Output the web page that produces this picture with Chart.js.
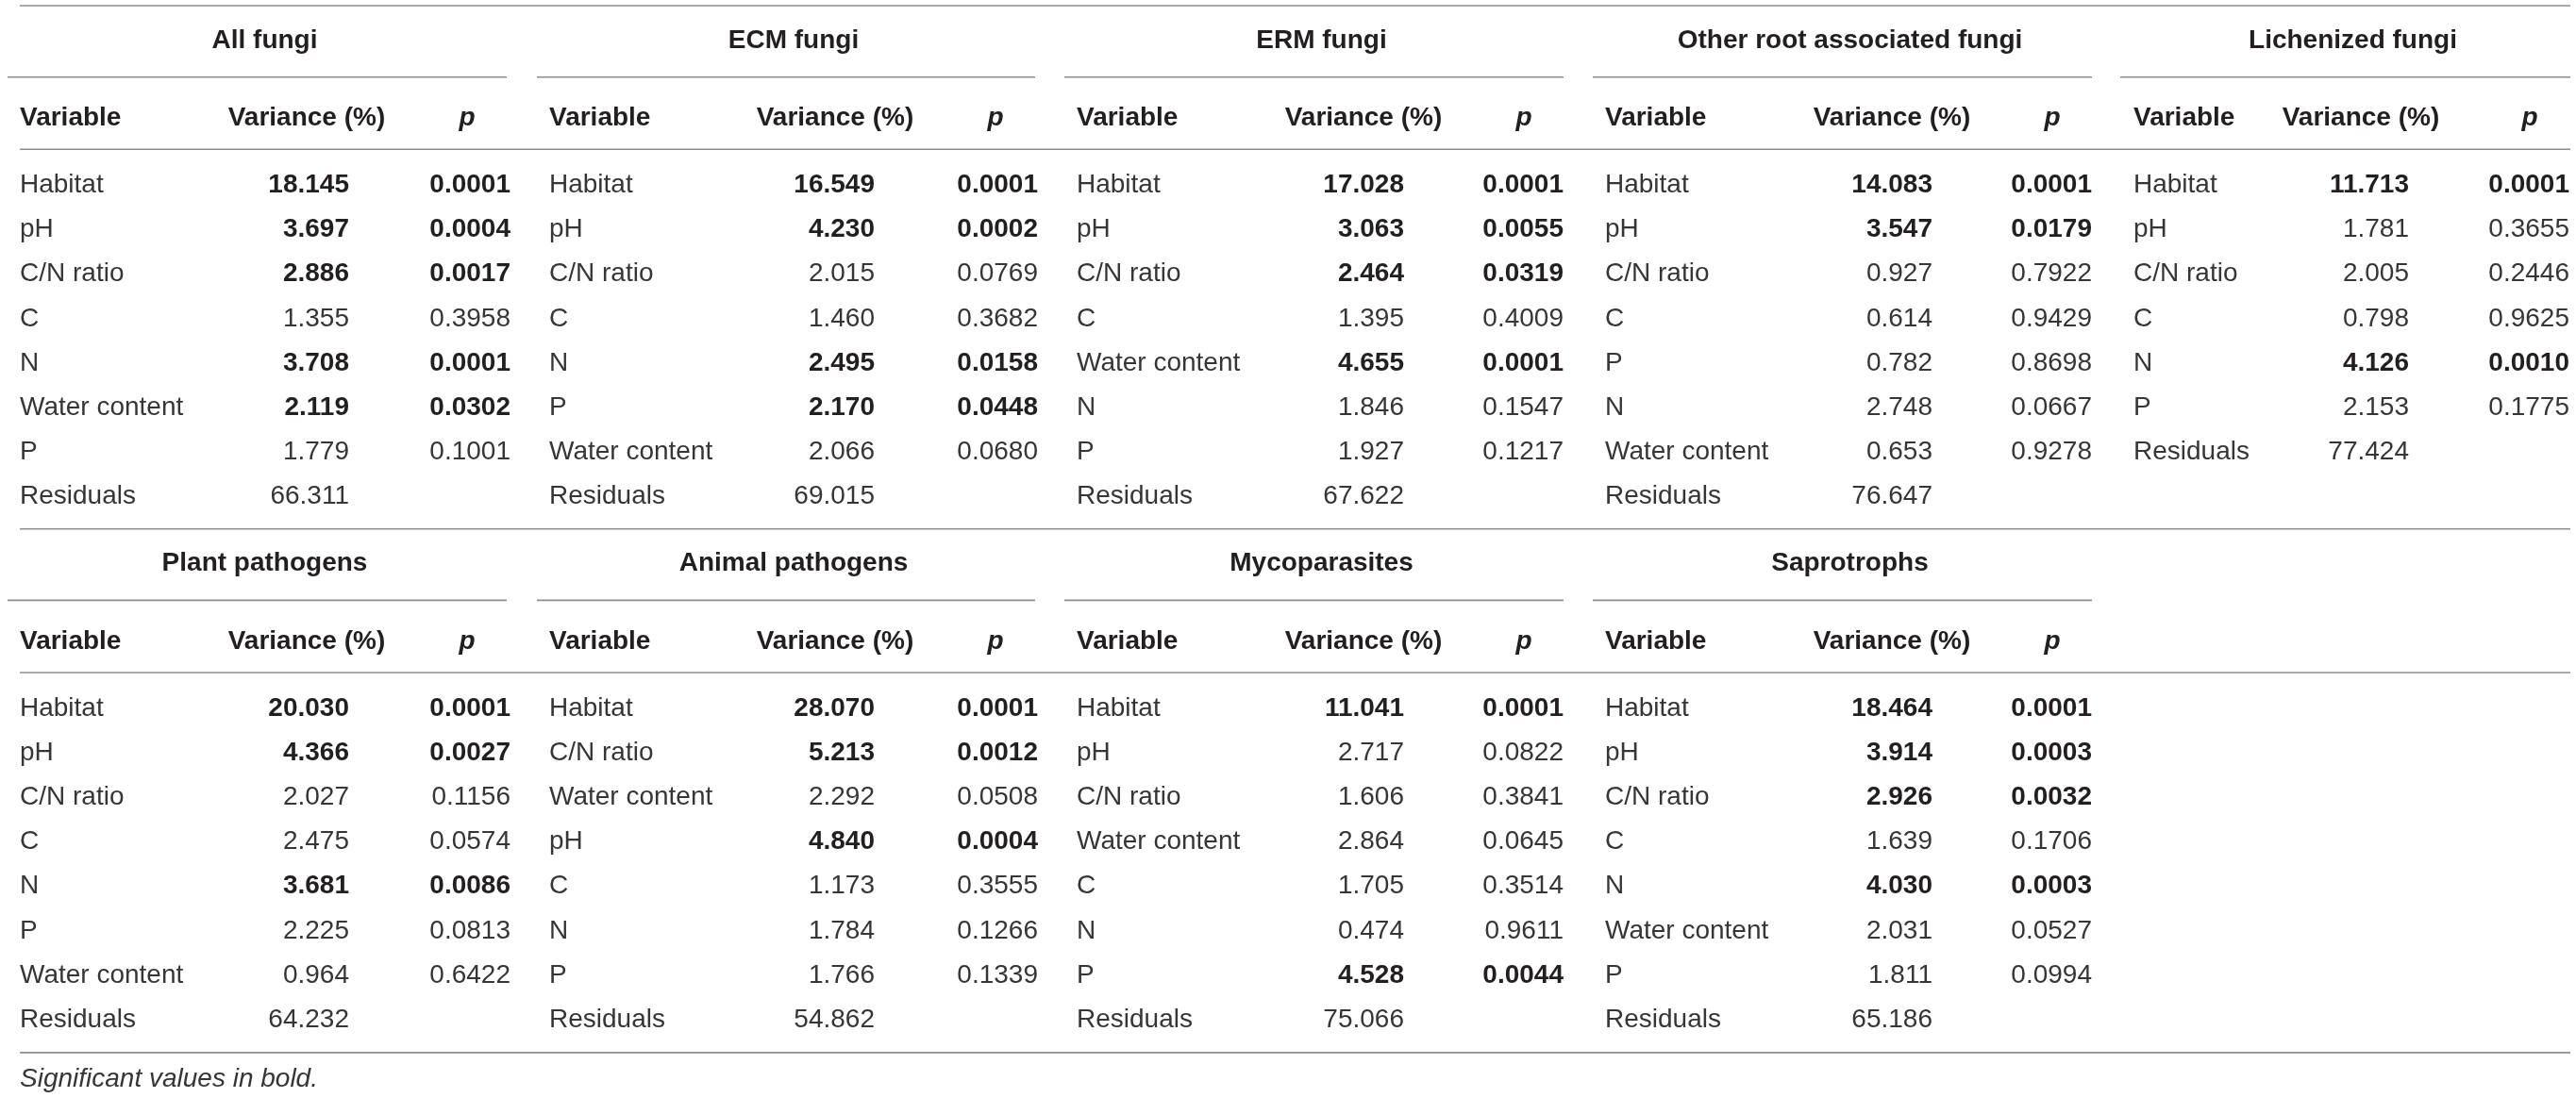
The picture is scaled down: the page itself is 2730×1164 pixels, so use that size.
<!DOCTYPE html>
<html>
<head>
<meta charset="utf-8">
<title>Variance partitioning of fungal communities</title>
<script src="https://cdn.jsdelivr.net/npm/chart.js@4.4.1/dist/chart.umd.min.js"></script>
<style>
  html, body { margin: 0; padding: 0; background: #fff; }
  #wrap { position: relative; width: 2730px; height: 1164px; }
</style>
</head>
<body>
<div id="wrap"><canvas id="table"></canvas></div>
<script>
/* ── Table data ─────────────────────────────────────────────────── */

var HEADERS = ['Variable', 'Variance (%)', 'p'];
var FOOTNOTE = 'Significant values in bold.';
var ALPHA = 0.05; /* significant cells are set in bold */

var ALL_TITLE = 'All fungi';
var ALL_VARS = ['Habitat', 'pH', 'C/N ratio', 'C', 'N', 'Water content', 'P', 'Residuals'];
var ALL_VARIANCE = [18.145, 3.697, 2.886, 1.355, 3.708, 2.119, 1.779, 66.311];
var ALL_P = [0.0001, 0.0004, 0.0017, 0.3958, 0.0001, 0.0302, 0.1001, null];

var ECM_TITLE = 'ECM fungi';
var ECM_VARS = ['Habitat', 'pH', 'C/N ratio', 'C', 'N', 'P', 'Water content', 'Residuals'];
var ECM_VARIANCE = [16.549, 4.230, 2.015, 1.460, 2.495, 2.170, 2.066, 69.015];
var ECM_P = [0.0001, 0.0002, 0.0769, 0.3682, 0.0158, 0.0448, 0.0680, null];

var ERM_TITLE = 'ERM fungi';
var ERM_VARS = ['Habitat', 'pH', 'C/N ratio', 'C', 'Water content', 'N', 'P', 'Residuals'];
var ERM_VARIANCE = [17.028, 3.063, 2.464, 1.395, 4.655, 1.846, 1.927, 67.622];
var ERM_P = [0.0001, 0.0055, 0.0319, 0.4009, 0.0001, 0.1547, 0.1217, null];

var ORA_TITLE = 'Other root associated fungi';
var ORA_VARS = ['Habitat', 'pH', 'C/N ratio', 'C', 'P', 'N', 'Water content', 'Residuals'];
var ORA_VARIANCE = [14.083, 3.547, 0.927, 0.614, 0.782, 2.748, 0.653, 76.647];
var ORA_P = [0.0001, 0.0179, 0.7922, 0.9429, 0.8698, 0.0667, 0.9278, null];

var LICH_TITLE = 'Lichenized fungi';
var LICH_VARS = ['Habitat', 'pH', 'C/N ratio', 'C', 'N', 'P', 'Residuals'];
var LICH_VARIANCE = [11.713, 1.781, 2.005, 0.798, 4.126, 2.153, 77.424];
var LICH_P = [0.0001, 0.3655, 0.2446, 0.9625, 0.0010, 0.1775, null];

var PLANT_TITLE = 'Plant pathogens';
var PLANT_VARS = ['Habitat', 'pH', 'C/N ratio', 'C', 'N', 'P', 'Water content', 'Residuals'];
var PLANT_VARIANCE = [20.030, 4.366, 2.027, 2.475, 3.681, 2.225, 0.964, 64.232];
var PLANT_P = [0.0001, 0.0027, 0.1156, 0.0574, 0.0086, 0.0813, 0.6422, null];

var ANIMAL_TITLE = 'Animal pathogens';
var ANIMAL_VARS = ['Habitat', 'C/N ratio', 'Water content', 'pH', 'C', 'N', 'P', 'Residuals'];
var ANIMAL_VARIANCE = [28.070, 5.213, 2.292, 4.840, 1.173, 1.784, 1.766, 54.862];
var ANIMAL_P = [0.0001, 0.0012, 0.0508, 0.0004, 0.3555, 0.1266, 0.1339, null];

var MYCO_TITLE = 'Mycoparasites';
var MYCO_VARS = ['Habitat', 'pH', 'C/N ratio', 'Water content', 'C', 'N', 'P', 'Residuals'];
var MYCO_VARIANCE = [11.041, 2.717, 1.606, 2.864, 1.705, 0.474, 4.528, 75.066];
var MYCO_P = [0.0001, 0.0822, 0.3841, 0.0645, 0.3514, 0.9611, 0.0044, null];

var SAPRO_TITLE = 'Saprotrophs';
var SAPRO_VARS = ['Habitat', 'pH', 'C/N ratio', 'C', 'N', 'Water content', 'P', 'Residuals'];
var SAPRO_VARIANCE = [18.464, 3.914, 2.926, 1.639, 4.030, 2.031, 1.811, 65.186];
var SAPRO_P = [0.0001, 0.0003, 0.0032, 0.1706, 0.0003, 0.0527, 0.0994, null];

/* ── Layout (x in px along the x scale, y in row units) ─────────── */

var COLS = [
  { line: [8, 537],     left: 21,   varRight: 370,  pRight: 541,  varHead: 325,  pHead: 495 },
  { line: [569, 1097],  left: 582,  varRight: 927,  pRight: 1100, varHead: 885,  pHead: 1055 },
  { line: [1128, 1657], left: 1141, varRight: 1488, pRight: 1657, varHead: 1445, pHead: 1615 },
  { line: [1688, 2217], left: 1701, varRight: 2048, pRight: 2217, varHead: 2005, pHead: 2175 },
  { line: [2247, 2724], left: 2261, varRight: 2553, pRight: 2723, varHead: 2502, pHead: 2681 }
];
var RULE_X = [21, 2724];
var ROW = { rule: -4.195, title: -3.248, titleLine: -2.591, head: -1.498, headLine: -0.968, sep: 7.557 };
var BLOCK2 = 11.752;
var BOTTOM_RULE = 19.32;
var FOOT_ROW = 20.08;
var ROW_PX = 47.2, ROW0_PX = 204, H = 1164, W = 2730;

var FAMILY = '"Liberation Sans", Arial, Helvetica, sans-serif';
var FONT_REG = '28px ' + FAMILY;
var FONT_BOLD = 'bold 28px ' + FAMILY;
var INK_BOLD = '#231f20';
var INK_REG = '#363636';
var RULE_COLOR = '#8d8d8d';

/* ── Build datasets ─────────────────────────────────────────────── */

var topPanels = [
  [ALL_TITLE, ALL_VARS, ALL_VARIANCE, ALL_P],
  [ECM_TITLE, ECM_VARS, ECM_VARIANCE, ECM_P],
  [ERM_TITLE, ERM_VARS, ERM_VARIANCE, ERM_P],
  [ORA_TITLE, ORA_VARS, ORA_VARIANCE, ORA_P],
  [LICH_TITLE, LICH_VARS, LICH_VARIANCE, LICH_P]
];
var bottomPanels = [
  [PLANT_TITLE, PLANT_VARS, PLANT_VARIANCE, PLANT_P],
  [ANIMAL_TITLE, ANIMAL_VARS, ANIMAL_VARIANCE, ANIMAL_P],
  [MYCO_TITLE, MYCO_VARS, MYCO_VARIANCE, MYCO_P],
  [SAPRO_TITLE, SAPRO_VARS, SAPRO_VARIANCE, SAPRO_P]
];

var cells = [];
var rules = [];

function cell(text, x, y, font, align, color) {
  cells.push({ x: x, y: y, text: text, font: font, align: align, color: color });
}
function rule(x0, x1, y) {
  rules.push({
    data: [{ x: x0, y: y }, { x: x1, y: y }],
    showLine: true,
    borderColor: RULE_COLOR,
    borderWidth: 1.6,
    pointRadius: 0,
    pointHoverRadius: 0
  });
}

function addBlock(panels, offset) {
  rule(RULE_X[0], RULE_X[1], offset + ROW.headLine);
  for (var i = 0; i < panels.length; i++) {
    var c = COLS[i];
    var title = panels[i][0], vars = panels[i][1], variance = panels[i][2], p = panels[i][3];
    var mid = (c.line[0] + c.line[1]) / 2 + 8;
    cell(title, mid, offset + ROW.title, FONT_BOLD, 'center', INK_BOLD);
    rule(c.line[0], c.line[1], offset + ROW.titleLine);
    cell(HEADERS[0], c.left, offset + ROW.head, FONT_BOLD, 'left', INK_BOLD);
    cell(HEADERS[1], c.varHead, offset + ROW.head, FONT_BOLD, 'center', INK_BOLD);
    cell(HEADERS[2], c.pHead, offset + ROW.head, 'italic ' + FONT_BOLD, 'center', INK_BOLD);
    for (var r = 0; r < vars.length; r++) {
      var sig = p[r] !== null && p[r] < ALPHA;
      var f = sig ? FONT_BOLD : FONT_REG;
      var ink = sig ? INK_BOLD : INK_REG;
      cell(vars[r], c.left, offset + r, FONT_REG, 'left', INK_REG);
      cell(variance[r].toFixed(3), c.varRight, offset + r, f, 'right', ink);
      if (p[r] !== null) cell(p[r].toFixed(4), c.pRight, offset + r, f, 'right', ink);
    }
  }
}

rule(RULE_X[0], RULE_X[1], ROW.rule);
addBlock(topPanels, 0);
rule(RULE_X[0], RULE_X[1], ROW.sep);
addBlock(bottomPanels, BLOCK2);
rule(RULE_X[0], RULE_X[1], BOTTOM_RULE);
cell(FOOTNOTE, RULE_X[0], FOOT_ROW, 'italic ' + FONT_REG, 'left', INK_REG);

/* ── Text plugin: writes each cell at its point element ─────────── */

var cellText = {
  id: 'cellText',
  afterDatasetsDraw: function (chart) {
    var ctx = chart.ctx;
    chart.data.datasets.forEach(function (ds, i) {
      if (!ds.isText) return;
      var meta = chart.getDatasetMeta(i);
      meta.data.forEach(function (el, j) {
        var c = ds.data[j];
        ctx.save();
        ctx.font = c.font;
        ctx.fillStyle = c.color;
        ctx.textAlign = c.align;
        ctx.textBaseline = 'alphabetic';
        ctx.fillText(c.text, el.x, el.y);
        ctx.restore();
      });
    });
  }
};

var datasets = rules.concat([{
  isText: true,
  data: cells,
  pointRadius: 0,
  pointHoverRadius: 0,
  showLine: false
}]);

new Chart(document.getElementById('table'), {
  type: 'scatter',
  data: { datasets: datasets },
  options: {
    responsive: true,
    maintainAspectRatio: false,
    devicePixelRatio: 1,
    animation: false,
    events: [],
    layout: { padding: 0 },
    plugins: { legend: { display: false }, tooltip: { enabled: false } },
    scales: {
      x: { type: 'linear', min: 0, max: W, display: false },
      y: {
        type: 'linear',
        reverse: true,
        min: -ROW0_PX / ROW_PX,
        max: (H - ROW0_PX) / ROW_PX,
        display: false
      }
    }
  },
  plugins: [cellText]
});
</script>
</body>
</html>
